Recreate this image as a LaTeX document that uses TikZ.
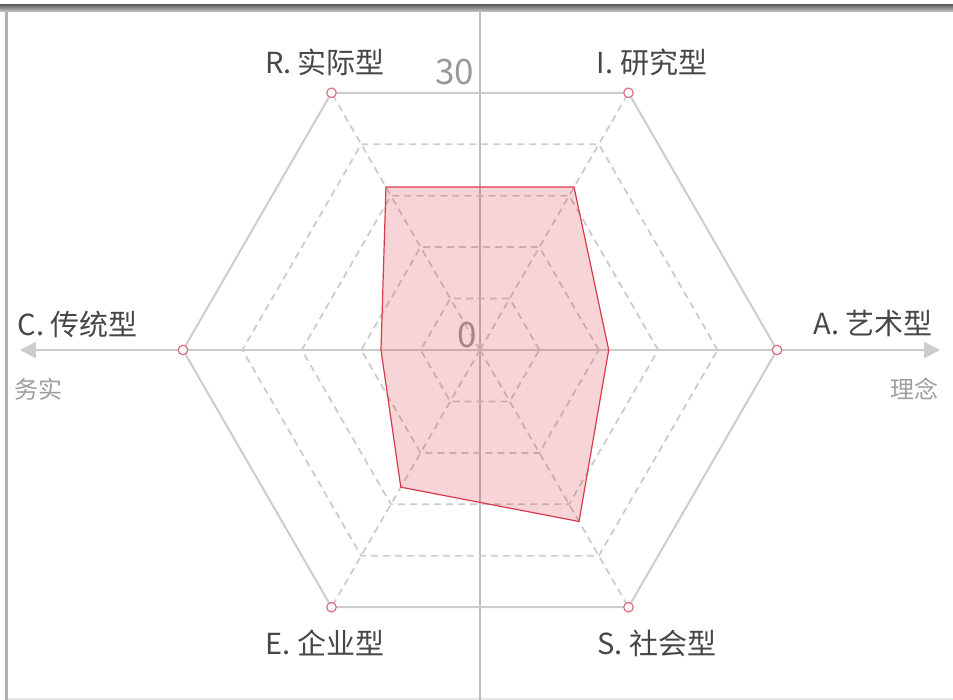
\documentclass[tikz,border=0pt]{standalone}
\usepackage{fontspec}
\setmainfont{Noto Sans CJK SC}
\usetikzlibrary{arrows.meta}
\definecolor{gridgray}{HTML}{CCCCCC}
\definecolor{axisgray}{HTML}{BDBDBD}
\definecolor{datared}{HTML}{D83A4B}
\definecolor{dotred}{HTML}{E07080}

\begin{document}
\begin{tikzpicture}[x=1pt,y=1pt,>={Triangle[length=16pt,width=16pt]},
  grid/.style={draw=gridgray,line width=2pt},
  ring/.style={draw=gridgray,line width=1.8pt,dash pattern=on 7pt off 5pt},
  vertex/.style={circle,draw=dotred,fill=white,line width=1.2pt,inner sep=0pt,minimum size=9.5pt},
  kind/.style={font=\fontsize{29}{29}\selectfont,text=black!72},
  pole/.style={font=\fontsize{24}{24}\selectfont,text=black!38},
  scale label/.style={font=\fontsize{35}{35}\selectfont,text=black!40}]
  \useasboundingbox (-480,-350) rectangle (473,350);
  % frame
  \shade[top color=black!60,bottom color=black!20] (-480,345) rectangle (473,338);
  \fill[black!30] (-475,338) rectangle (-472,-350);
  \fill[black!10] (-472,-348) rectangle (473,-350);
  % axes
  \coordinate (top) at (0,338);
  \coordinate (bottom) at (0,-350);
  \coordinate (west) at (-460,0);
  \coordinate (east) at (460,0);
  \draw[axisgray,line width=2pt] (top) -- (bottom);
  \draw[<->,gridgray,line width=2pt] (west) -- (east);
  % hexagon grid
  \coordinate (A) at (0:297);
  \coordinate (I) at (60:297);
  \coordinate (R) at (120:297);
  \coordinate (C) at (180:297);
  \coordinate (E) at (240:297);
  \coordinate (S) at (300:297);
  \foreach \f in {0.2,0.4,0.6,0.8}
    \draw[ring] (0:{\f*297}) \foreach \a in {60,120,...,300} { -- (\a:{\f*297}) } -- cycle;
  \foreach \p in {I,R,E,S}
    \draw[ring] (0,0) -- (\p);
  \draw[grid] (A) -- (I) -- (R) -- (C) -- (E) -- (S) -- cycle;
  \node[scale label] (max) at (-25,278) {30};
  \node[scale label] (min) at (-13,15) {0};
  % scores out of 30
  \draw[datared,line width=1.2pt,fill=datared,fill opacity=0.22]
    (120:{19/30*297}) -- (60:{19/30*297}) -- (0:{13/30*297}) --
    (300:{20/30*297}) -- (240:{16/30*297}) -- (180:{10/30*297}) -- cycle;
  \foreach \p in {A,I,R,C,E,S}
    \node[vertex] (\p dot) at (\p) {};
  % labels
  \node[kind] (Rlab) at (-155,288) {R. 实际型};
  \node[kind] (Ilab) at (172,288) {I. 研究型};
  \node[kind] (Clab) at (-402,26) {C. 传统型};
  \node[kind] (Alab) at (393,27) {A. 艺术型};
  \node[kind] (Elab) at (-155,-293) {E. 企业型};
  \node[kind] (Slab) at (177,-293) {S. 社会型};
  \node[pole] (west lab) at (-441,-39) {务实};
  \node[pole] (east lab) at (434,-39) {理念};
\end{tikzpicture}
\end{document}
